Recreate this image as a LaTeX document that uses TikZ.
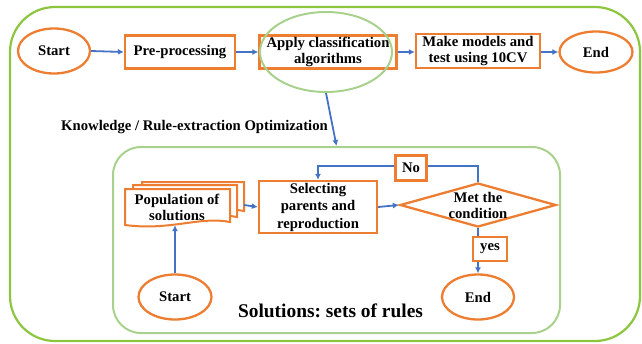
\documentclass[tikz,border=0pt]{standalone}
\usepackage{fontspec}
\setmainfont{Liberation Serif}
\usetikzlibrary{shapes.geometric,arrows.meta}
\definecolor{orng}{HTML}{ED7D31}
\definecolor{blu}{HTML}{4472C4}
\definecolor{grnA}{HTML}{8CC63F}
\definecolor{grnB}{HTML}{A9D18E}
\newcommand\docshape[4]{%
  \draw[orng,line width=2pt,fill=white] (#1,#2) -- (#3,#2) -- (#3,#4-3)
    .. controls (#3-30,#4-9) and (#1+45,#4+6) .. (#1,#4) -- cycle;}
\frenchspacing
\begin{document}
\begin{tikzpicture}[x=1pt,y=-1pt,
  txt/.style={font=\bfseries\fontsize{14.7}{16}\selectfont,align=center,inner sep=1pt},
  obox/.style={txt,draw=orng,line width=2.3pt,rectangle},
  oell/.style={txt,draw=orng,line width=2.3pt,ellipse,inner sep=0pt},
  arr/.style={blu,line width=1.8pt,-{Latex[length=6pt,width=6pt]}}]
\useasboundingbox (0,0) rectangle (642,343);
% frames
\draw[grnA,line width=2.2pt,rounded corners=45pt] (10,7) rectangle (640,341);
\node[draw=grnB,line width=2pt,rounded corners=28pt,minimum width=447pt,minimum height=186pt,inner sep=0pt] (inner) at (336.5,240) {};
% top row
\node[oell,minimum width=72pt,minimum height=45pt] (s1) at (54,51) {Start};
\node[obox,minimum width=110pt,minimum height=33pt] (pre) at (180,52) {Pre-processing};
\node[obox,minimum width=137pt,minimum height=33pt] (apply) at (328,52) {Apply classification\\algorithms};
\node[draw=grnB,line width=2pt,ellipse,minimum width=132pt,minimum height=80pt,inner sep=0pt] (ell) at (326,52) {};
\node[obox,minimum width=124pt,minimum height=34pt] (make) at (478,51) {Make models and\\test using 10CV};
\node[oell,minimum width=73pt,minimum height=41pt] (e1) at (596,52) {End};
\draw[arr] (s1.east) -- (pre.west);
\draw[arr] (pre.east) -- (apply.west);
\draw[arr] (apply.east) -- (make.west |- apply.east);
\draw[arr] (make.east |- e1.west) -- (e1.west);
\draw[arr] (ell.south) -- (inner.north);
\node[txt] (know) at (194.5,127) {Knowledge / Rule-extraction Optimization};
% inner flow
\docshape{142}{182}{244}{214}
\docshape{133}{185}{237}{220}
\docshape{125}{189}{230}{225}
\node[txt,minimum width=105pt,minimum height=36pt] (pop) at (177,207) {Population of\\solutions};
\coordinate (popr) at (244,205);
\node[obox,minimum width=118pt,minimum height=52pt,font=\bfseries\fontsize{14.7}{17.5}\selectfont] (sel) at (318,207) {Selecting\\parents and\\reproduction};
\node[draw=orng,line width=2.3pt,diamond,aspect=3.5,minimum width=156pt,minimum height=44pt,inner sep=0pt] (dia) at (478,205) {};
\node[txt] (diat) at (dia.center) {Met the\\condition};
\node[oell,minimum width=73pt,minimum height=45pt] (s2) at (175,297) {Start};
\node[oell,minimum width=72pt,minimum height=45pt] (e2) at (478,297) {End};
\draw[arr] (s2.north) -- (s2.north |- pop.south);
\draw[arr] (popr) -- (sel.west);
\draw[arr] (sel.east) -- (dia.west);
\draw[arr] (dia.north) -- ++(0,-16) -| (sel.north);
\draw[arr] (dia.south) -- (e2.north);
\node[obox,fill=white,minimum width=31pt,minimum height=25pt] (no) at (411,168) {No};
\node[obox,fill=white,minimum width=34pt,minimum height=24pt] (yes) at (490,249) {yes};
\node[txt,font=\bfseries\fontsize{19.4}{22}\selectfont] (sol) at (330.5,311) {Solutions: sets of rules};
\end{tikzpicture}
\end{document}
